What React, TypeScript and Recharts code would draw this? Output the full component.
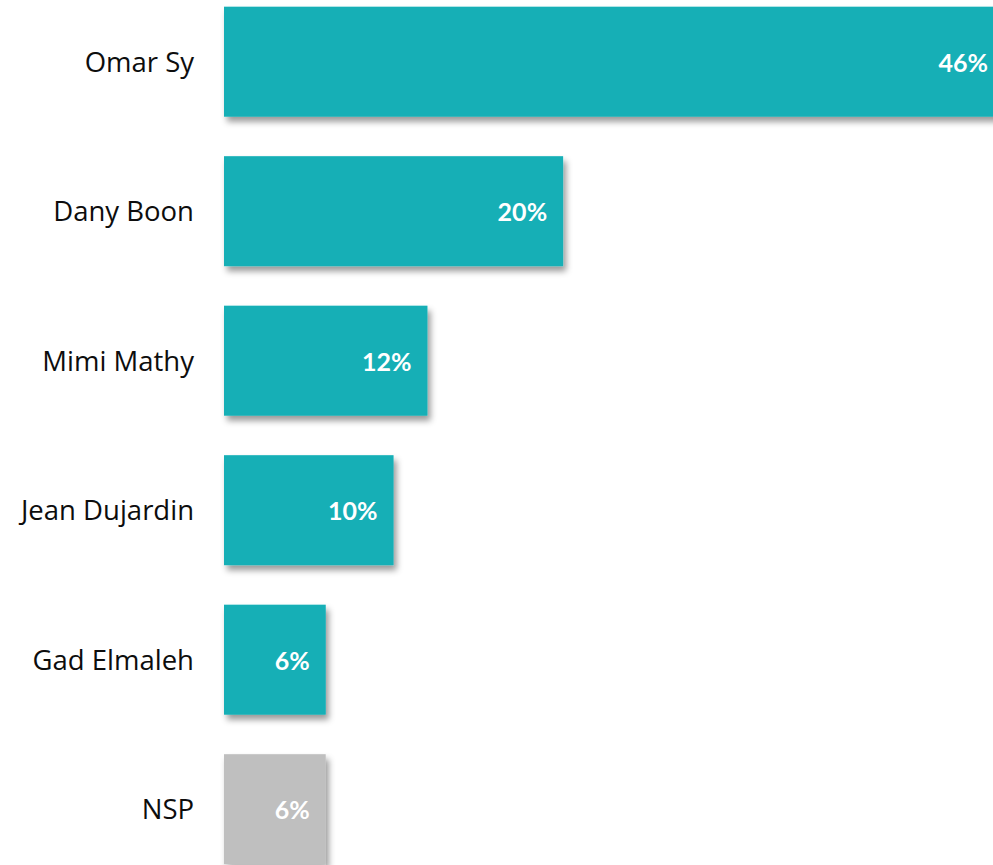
import { BarChart, Bar, XAxis, YAxis, Cell, LabelList } from 'recharts'

const names = ['Omar Sy', 'Dany Boon', 'Mimi Mathy', 'Jean Dujardin', 'Gad Elmaleh', 'NSP']
const shares = [46, 20, 12, 10, 6, 6]
const colors = ['#13AFB6', '#13AFB6', '#13AFB6', '#13AFB6', '#13AFB6', '#BFBFBF']

const data = names.map((name, i) => ({ name, value: shares[i], color: colors[i] }))

const ShadowRect = (props: any) => {
  const { x, y, width, height, fill } = props
  return <rect x={x} y={y} width={width} height={height} fill={fill} filter="url(#barShadow)" />
}

const ValueLabel = (props: any) => {
  const { x, y, width, height, value } = props
  return (
    <text
      x={x + width - 16}
      y={y + height / 2}
      textAnchor="end"
      dominantBaseline="central"
      fill="#fff"
      fontWeight={700}
      fontSize={25}
      fontFamily="Lato, sans-serif"
    >
      {value}%
    </text>
  )
}

export default function App() {
  return (
    <div style={{ width: 993, height: 865, overflow: 'hidden', position: 'relative', background: '#fff' }}>
      <style>{'body{margin:0}'}</style>
      <svg width={0} height={0} style={{ position: 'absolute' }}>
        <defs>
          <filter id="barShadow" x="-10%" y="-10%" width="130%" height="130%">
            <feDropShadow dx={3} dy={5} stdDeviation={3} floodColor="#000" floodOpacity={0.4} />
          </filter>
        </defs>
      </svg>
      <div style={{ position: 'absolute', top: -13, left: 0 }}>
        <BarChart
          width={1004}
          height={897}
          data={data}
          layout="vertical"
          margin={{ top: 0, right: 0, bottom: 0, left: 0 }}
          barCategoryGap={19.7}
        >
          <XAxis type="number" domain={[0, 46]} hide />
          <YAxis
            type="category"
            dataKey="name"
            width={224}
            axisLine={false}
            tickLine={false}
            tickSize={0}
            tickMargin={30}
            tick={{ fontSize: 27.5, fill: '#0d0d0d', fontFamily: '"Open Sans", sans-serif' }}
          />
          <Bar dataKey="value" isAnimationActive={false} shape={ShadowRect}>
            {data.map((d) => (
              <Cell key={d.name} fill={d.color} />
            ))}
            <LabelList dataKey="value" content={ValueLabel} />
          </Bar>
        </BarChart>
      </div>
    </div>
  )
}
